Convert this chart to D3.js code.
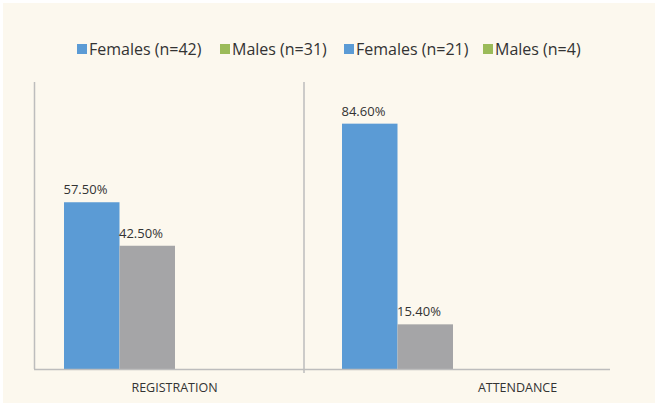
<!doctype html>
<html lang="en">
  <head>
    <meta charset="utf-8">
    <title>Registration and attendance by gender</title>
    <style>
      body{margin:0; background:#fff;}
      text{font-family:"Open Sans", Lato, sans-serif; fill:#333;}
    </style>
  </head>
  <body>
    <script src="https://cdn.jsdelivr.net/npm/d3@7"></script>
    <script>

      // data
      var categories = ["REGISTRATION", "ATTENDANCE"];
      var legendNames = ["Females (n=42)", "Males (n=31)", "Females (n=21)", "Males (n=4)"];
      var legendColors = ["#5b9bd5", "#9bbb59", "#5b9bd5", "#9bbb59"];
      var females = [57.5, 84.6];
      var males   = [42.5, 15.4];
      var groups  = ["Females", "Males"];
      var barColors = ["#5b9bd5", "#a5a5a7"];

      var data = categories.map(function(c, i){
        return {cat: c, values: [{g: "Females", v: females[i]}, {g: "Males", v: males[i]}]};
      });

      var W = 655, H = 405;
      var left = 34, right = 610, mid = 304, base = 369, plotTop = 79;

      var svg = d3.select("body")
        .append("svg")
        .attr("width", W)
        .attr("height", H);

      // background panel
      svg.append("rect")
        .attr("x", 3).attr("y", 3)
        .attr("width", W - 3).attr("height", H - 5)
        .attr("fill", "#fcf8ee");

      var x0 = d3.scaleBand()
        .domain(categories)
        .range([left, left + 556]);

      var x1 = d3.scaleBand()
        .domain(groups)
        .range([30, 141]);

      var y = d3.scaleLinear()
        .domain([0, 100])
        .range([base, plotTop]);

      var labelX = d3.scalePoint()
        .domain(categories)
        .range([174, 517]);

      // axis lines
      var axisColor = "#bdbdbd";
      svg.append("line")
        .attr("x1", left + 0.5).attr("x2", left + 0.5)
        .attr("y1", y(99)).attr("y2", base)
        .attr("stroke", axisColor).attr("stroke-width", 1.5);

      // category divider
      svg.append("line")
        .attr("x1", mid).attr("x2", mid)
        .attr("y1", y(99)).attr("y2", base + 4)
        .attr("stroke", axisColor).attr("stroke-width", 1.5);

      // bars
      var g = svg.selectAll(".grp")
        .data(data)
        .enter()
        .append("g")
        .attr("class", "grp")
        .attr("transform", function(d){ return "translate(" + x0(d.cat) + ",0)"; });

      g.selectAll("rect")
        .data(function(d){ return d.values; })
        .enter()
        .append("rect")
        .attr("x", function(d){ return x1(d.g); })
        .attr("y", function(d){ return y(d.v); })
        .attr("width", x1.bandwidth())
        .attr("height", function(d){ return base - y(d.v); })
        .attr("fill", function(d, i){ return barColors[i]; });

      g.selectAll("text")
        .data(function(d){ return d.values; })
        .enter()
        .append("text")
        .attr("x", function(d){ return x1(d.g) - 0.5; })
        .attr("y", function(d){ return y(d.v) - 8; })
        .attr("font-size", 13)
        .text(function(d){ return d.v.toFixed(2) + "%"; });

      svg.append("line")
        .attr("x1", left).attr("x2", right)
        .attr("y1", base + 0.5).attr("y2", base + 0.5)
        .attr("stroke", axisColor).attr("stroke-width", 1.5);

      // category labels
      svg.append("g")
        .attr("transform", "translate(0," + base + ")")
        .call(d3.axisBottom(labelX).tickSize(0).tickPadding(14))
        .call(function(a){ a.select(".domain").remove(); })
        .selectAll("text")
        .attr("font-size", 12.5)
        .attr("fill", "#333")
        .style("font-family", "'Open Sans', sans-serif");

      // legend
      var legendX = [77, 220, 344, 483];
      var leg = svg.selectAll(".leg")
        .data(legendNames)
        .enter()
        .append("g")
        .attr("class", "leg")
        .attr("transform", function(d, i){ return "translate(" + legendX[i] + ",44)"; });

      leg.append("rect")
        .attr("width", 10).attr("height", 10)
        .attr("fill", function(d, i){ return legendColors[i]; });

      leg.append("text")
        .attr("x", 12)
        .attr("y", 11)
        .attr("font-size", 16)
        .text(function(d){ return d; });

    </script>
  </body>
</html>
